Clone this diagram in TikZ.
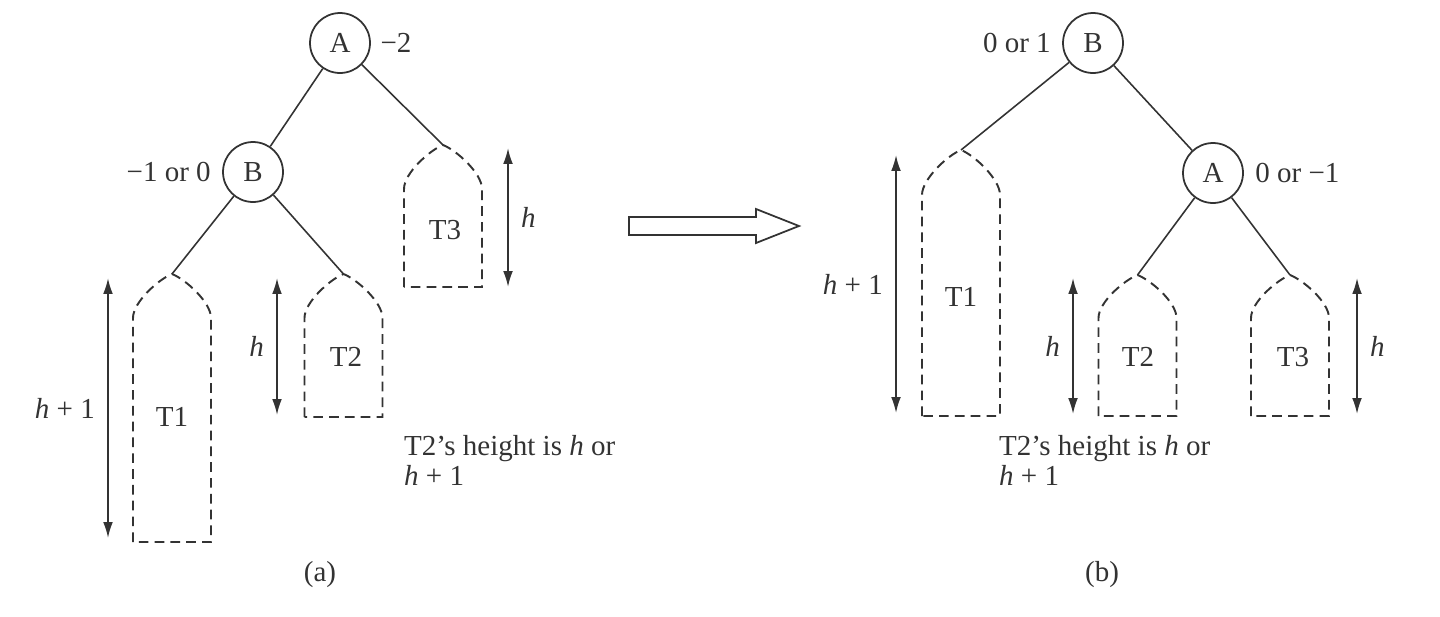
\documentclass[tikz,border=0pt]{standalone}
\usepackage{fontspec}
\setmainfont{Liberation Serif}
\usetikzlibrary{positioning,arrows.meta}
\tikzset{
  avl node/.style={circle, draw, line width=1pt, minimum size=1.2cm, inner sep=0pt},
  subtree/.style={draw, dash pattern=on 5.5pt off 3.5pt, line width=1.1pt},
  edge line/.style={line width=0.9pt},
  height/.style={<->, line width=1pt},
  height label/.style={inner sep=7pt}
}
% centre x, apex y, shoulder y, bottom y
\newcommand{\drawsubtree}[4]{%
  \draw[subtree] (#1-39,#4) -- (#1-39,#3)
    .. controls (#1-39,#3-16) and (#1-13,#2+5) .. (#1,#2)
    .. controls (#1+13,#2+5) and (#1+39,#3-16) .. (#1+39,#3)
    -- (#1+39,#4) -- cycle;}
\begin{document}
\begin{tikzpicture}[x=0.02cm, y=-0.02cm, color=black!80,
    font=\fontsize{16.5}{17}\selectfont, >={Latex[length=9pt,width=5.5pt]}]
  \useasboundingbox (0,0) rectangle (1440,616);
  % (a): the nodes
  \node (A a) [avl node] at (340,43) {A};
  \node (bf A a) [right=2pt of A a] {−2};
  \node (B a) [avl node] at (253,172) {B};
  \node (bf B a) [left=3pt of B a] {−1 or 0};
  % (a): the subtrees
  \drawsubtree{172}{274}{318}{542}
  \drawsubtree{343.5}{274}{318}{417}
  \drawsubtree{443}{145}{189}{287}
  \coordinate (T1 a top) at (172,274);
  \coordinate (T2 a top) at (343.5,274);
  \coordinate (T3 a top) at (443,145);
  \node (T1 a) at (172,417) {T1};
  \node (T2 a) at (346,357) {T2};
  \node (T3 a) at (445,230) {T3};
  % (a): the edges
  \draw[edge line] (A a) -- (B a);
  \draw[edge line] (A a) -- (T3 a top);
  \draw[edge line] (B a) -- (T1 a top);
  \draw[edge line] (B a) -- (T2 a top);
  % (a): the heights
  \coordinate (h1 a top) at (108,278);
  \coordinate (h1 a bottom) at (108,538);
  \coordinate (h2 a top) at (277,278);
  \coordinate (h2 a bottom) at (277,415);
  \coordinate (h3 a top) at (508,148);
  \coordinate (h3 a bottom) at (508,287);
  \draw[height] (h1 a top) to node [left, height label] {\textit{h} + 1} (h1 a bottom);
  \draw[height] (h2 a top) to node [left, height label] {\textit{h}} (h2 a bottom);
  \draw[height] (h3 a top) to node [right, height label] {\textit{h}} (h3 a bottom);
  \node (note a) [anchor=west, align=left] at (398,460) {T2’s height is \textit{h} or\\\textit{h} + 1};
  \node (caption a) at (320,575) {(a)};
  % the rotation arrow
  \draw[line width=1pt] (629,217) -- (756,217) -- (756,209) -- (799,226)
    -- (756,243) -- (756,235) -- (629,235) -- cycle;
  % (b): the nodes
  \node (B b) [avl node] at (1093,43) {B};
  \node (bf B b) [left=3pt of B b] {0 or 1};
  \node (A b) [avl node] at (1213,173) {A};
  \node (bf A b) [right=3pt of A b] {0 or −1};
  % (b): the subtrees
  \drawsubtree{961}{150}{195}{416}
  \drawsubtree{1137.5}{275}{318}{416}
  \drawsubtree{1290}{275}{318}{416}
  \coordinate (T1 b top) at (961,150);
  \coordinate (T2 b top) at (1137.5,275);
  \coordinate (T3 b top) at (1290,275);
  \node (T1 b) at (961,297) {T1};
  \node (T2 b) at (1138,357) {T2};
  \node (T3 b) at (1293,357) {T3};
  % (b): the edges
  \draw[edge line] (B b) -- (T1 b top);
  \draw[edge line] (B b) -- (A b);
  \draw[edge line] (A b) -- (T2 b top);
  \draw[edge line] (A b) -- (T3 b top);
  % (b): the heights
  \coordinate (h1 b top) at (896,155);
  \coordinate (h1 b bottom) at (896,413);
  \coordinate (h2 b top) at (1073,278);
  \coordinate (h2 b bottom) at (1073,414);
  \coordinate (h3 b top) at (1357,278);
  \coordinate (h3 b bottom) at (1357,414);
  \draw[height] (h1 b top) to node [left, height label] {\textit{h} + 1} (h1 b bottom);
  \draw[height] (h2 b top) to node [left, height label] {\textit{h}} (h2 b bottom);
  \draw[height] (h3 b top) to node [right, height label] {\textit{h}} (h3 b bottom);
  \node (note b) [anchor=west, align=left] at (993,460) {T2’s height is \textit{h} or\\\textit{h} + 1};
  \node (caption b) at (1102,575) {(b)};
\end{tikzpicture}
\end{document}
